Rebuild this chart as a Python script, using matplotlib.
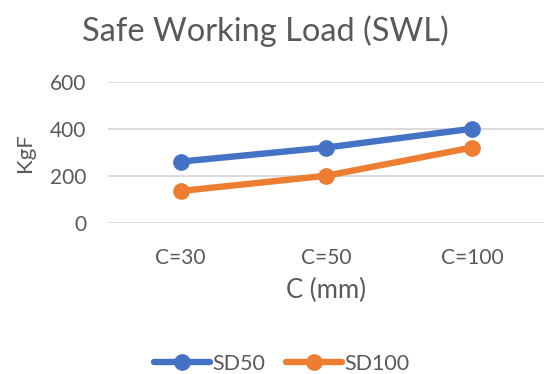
import matplotlib
matplotlib.use("Agg")
import matplotlib.pyplot as plt

categories = ["C=30", "C=50", "C=100"]
sd50 = [260, 320, 400]
sd100 = [135, 200, 320]
y_ticks = [0, 200, 400, 600]

plt.rcParams['font.family'] = ['Lato', 'DejaVu Sans']
grey = "#595959"

fig = plt.figure(figsize=(5.44, 3.74), dpi=100)
ax = fig.add_axes([0.198, 0.4045, 0.804, 0.377])

x = list(range(len(categories)))
ax.plot(x, sd50, color="#4472C4", lw=4.6, marker="o", ms=11, label="SD50", solid_capstyle="round")
ax.plot(x, sd100, color="#ED7D31", lw=4.6, marker="o", ms=11, label="SD100", solid_capstyle="round")

ax.set_xlim(-0.5, len(categories) - 0.5)
ax.set_ylim(0, 600)
ax.set_yticks(y_ticks)
ax.set_xticks(x)
ax.set_xticklabels(categories)
ax.grid(axis="y", color="#D9D9D9", lw=1.3)
ax.set_axisbelow(True)
for s in ax.spines.values():
    s.set_visible(False)
ax.tick_params(length=0, colors=grey, labelsize=15)
ax.tick_params(axis="y", pad=15.5)
ax.tick_params(axis="x", pad=18)

ax.set_ylabel("KgF", color=grey, fontsize=16, va="center")
ax.yaxis.set_label_coords(-0.190, 0.5)
ax.set_xlabel("C (mm)", color=grey, fontsize=18.5, va="center")
ax.xaxis.set_label_coords(0.5, -0.484)

fig.text(0.487, 0.917, "Safe Working Load (SWL)", ha="center", va="center", fontsize=23.5, color=grey)

fig.legend(loc="center", bbox_to_anchor=(0.518, 0.027), ncol=2, frameon=False,
           fontsize=15.5, labelcolor=grey, handlelength=2.6, columnspacing=1.0, handletextpad=0.1)

fig.savefig("out.png", dpi=100)
